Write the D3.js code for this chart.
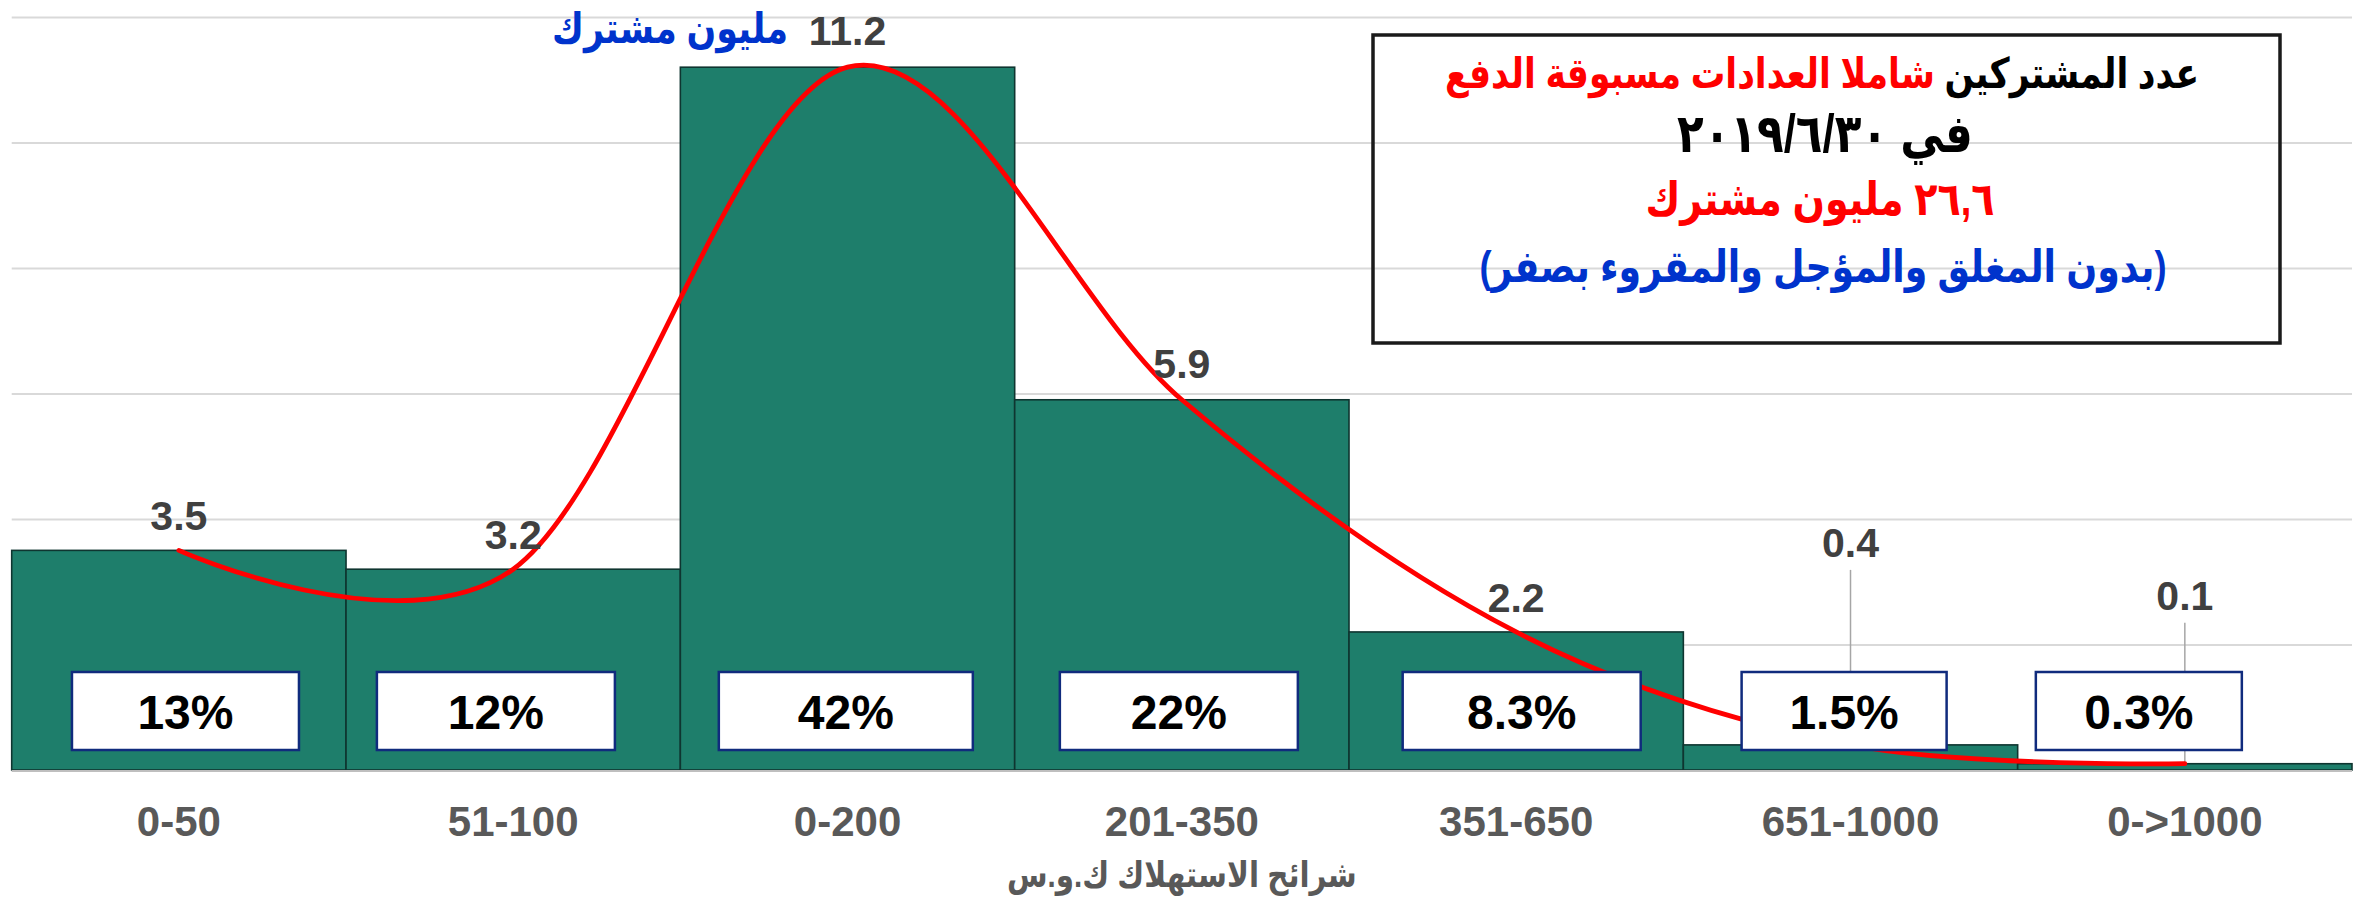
<!DOCTYPE html>
<html>
<head>
<meta charset="utf-8">
<script src="https://cdn.jsdelivr.net/npm/d3@7"></script>
<style>
  html, body { margin: 0; padding: 0; background: #ffffff; }
  svg { display: block; }
  .lat { font-family: "Liberation Sans", Arial, "DejaVu Sans", sans-serif; font-weight: bold; }
  .ar { font-family: "Liberation Sans", "DejaVu Sans", sans-serif; font-weight: bold; }
</style>
</head>
<body>
<script>
// ---- data ----
const categories = ["0-50", "51-100", "0-200", "201-350", "351-650", "651-1000", "0->1000"];
const subscribers = [3.5, 3.2, 11.2, 5.9, 2.2, 0.4, 0.1];          // million subscribers
const shares = ["13%", "12%", "42%", "22%", "8.3%", "1.5%", "0.3%"];
const yTicks = [0, 2, 4, 6, 8, 10, 12];
const xTitle = "شرائح الاستهلاك ك.و.س";
const peakUnit = "مليون مشترك";
const noteLines = [
  [["عدد المشتركين ", "#000000"], ["شاملا العدادات مسبوقة الدفع", "#ff0000"]],
  [["في ٢٠١٩/٦/٣٠", "#000000"]],
  [["٢٦,٦ مليون مشترك", "#ff0000"]],
  [["(بدون المغلق والمؤجل والمقروء بصفر)", "#0033cc"]]
];

// ---- layout (positions/sizes, not data) ----
const W = 2369, H = 901;
const plot = { left: 11.7, right: 2352, top: 17, bottom: 770 };
const labelLift = [20, 20, 22, 22, 20, 188, 154];
const leaderFrom = [null, null, null, null, null, 13, 13];
const boxDx = [6.6, -17.3, -1.7, -3, 5.5, -6.4, -46];
const boxW = [227, 238, 254, 238, 238, 205, 206];
const boxY = 672, boxH = 78;
const noteBox = { x: 1373, y: 35, w: 907, h: 308 };
const noteLayout = [
  { cx: 1822, w: 754, base: 88 },
  { cx: 1825, w: 296, base: 152 },
  { cx: 1820, w: 349, base: 215 },
  { cx: 1823, w: 687, base: 282 }
];
const arStretch = 1.22;   // vertical stretch of the Arabic face to match the reference's taller glyphs

const svg = d3.select("body").append("svg").attr("width", W).attr("height", H);

const x = d3.scaleBand().domain(categories).range([plot.left, plot.right]).paddingInner(0).paddingOuter(0);
const y = d3.scaleLinear().domain([0, 12]).range([plot.bottom, plot.top]);
const cx = i => x(categories[i]) + x.bandwidth() / 2;

// gridlines
const grid = svg.append("g").attr("transform", `translate(${plot.left},0)`)
  .call(d3.axisLeft(y).tickValues(yTicks.filter(t => t > 0)).tickSize(-(plot.right - plot.left)).tickFormat(""));
grid.select(".domain").remove();
grid.selectAll(".tick line").attr("stroke", "#d9d9d9").attr("stroke-width", 2);

// bars
svg.append("g").selectAll("rect").data(subscribers).join("rect")
  .attr("x", (d, i) => x(categories[i]))
  .attr("y", d => y(d))
  .attr("width", x.bandwidth())
  .attr("height", d => y(0) - y(d))
  .attr("fill", "#1e7e6b")
  .attr("stroke", "#0f3530")
  .attr("stroke-width", 1.6);

// baseline
svg.append("line").attr("x1", plot.left).attr("x2", plot.right)
  .attr("y1", y(0) + 1).attr("y2", y(0) + 1)
  .attr("stroke", "#bfbfbf").attr("stroke-width", 2);

// x axis labels
const xa = svg.append("g").attr("transform", `translate(0,${y(0)})`)
  .call(d3.axisBottom(x).tickSize(0).tickPadding(36));
xa.select(".domain").remove();
xa.selectAll("text").attr("class", "lat").attr("font-size", 42).attr("fill", "#595959");

// leader lines
svg.append("g").selectAll("line").data(subscribers.map((d, i) => ({ d, i })).filter(o => leaderFrom[o.i] !== null)).join("line")
  .attr("x1", o => cx(o.i)).attr("x2", o => cx(o.i))
  .attr("y1", o => y(o.d) - labelLift[o.i] + leaderFrom[o.i])
  .attr("y2", o => y(o.d))
  .attr("stroke", "#a6a6a6").attr("stroke-width", 1.5);

// smooth curve
const line = d3.line().x((d, i) => cx(i)).y(d => y(d)).curve(d3.curveCardinal.tension(0));
svg.append("path").datum(subscribers).attr("d", line)
  .attr("fill", "none").attr("stroke", "#ff0000").attr("stroke-width", 4.8).attr("stroke-linecap", "round");

// value labels
svg.append("g").selectAll("text").data(subscribers).join("text")
  .attr("class", "lat")
  .attr("x", (d, i) => cx(i))
  .attr("y", (d, i) => y(d) - labelLift[i])
  .attr("text-anchor", "middle")
  .attr("font-size", 41)
  .attr("fill", "#404040")
  .text(d => d3.format(".1f")(d));

// percent boxes
const pg = svg.append("g").selectAll("g").data(shares).join("g");
pg.append("rect")
  .attr("x", (d, i) => cx(i) + boxDx[i] - boxW[i] / 2)
  .attr("y", boxY).attr("width", (d, i) => boxW[i]).attr("height", boxH)
  .attr("fill", "#ffffff").attr("stroke", "#102b7d").attr("stroke-width", 2.5);
pg.append("text")
  .attr("class", "lat")
  .attr("x", (d, i) => cx(i) + boxDx[i])
  .attr("y", boxY + boxH / 2 + 17.5)
  .attr("text-anchor", "middle")
  .attr("font-size", 48)
  .attr("fill", "#000000")
  .text(d => d);

// Arabic single-line label: width fitted, stretched vertically about its baseline
function arLabel(str, color, cxPos, base, targetW) {
  const t = svg.append("text").attr("class", "ar")
    .attr("direction", "rtl").attr("text-anchor", "middle")
    .attr("x", 0).attr("y", 0)
    .attr("font-size", 40).attr("fill", color)
    .text(str);
  const w = t.node().getComputedTextLength();
  if (w > 0) t.attr("font-size", 40 * targetW / w);
  t.attr("transform", `translate(${cxPos},${base}) scale(1,${arStretch})`);
  return t;
}

arLabel(peakUnit, "#0033cc", 670, 43, 236);
arLabel(xTitle, "#595959", cx(3), 887, 350);

// note box
svg.append("rect").attr("x", noteBox.x).attr("y", noteBox.y).attr("width", noteBox.w).attr("height", noteBox.h)
  .attr("fill", "none").attr("stroke", "#1a1a1a").attr("stroke-width", 3.5);

const note = svg.append("text").attr("class", "ar")
  .attr("direction", "rtl").attr("text-anchor", "middle")
  .attr("transform", `scale(1,${arStretch})`);
noteLines.forEach((parts, k) => {
  const L = noteLayout[k];
  const ln = note.append("tspan").attr("x", L.cx).attr("y", L.base / arStretch).attr("font-size", 44);
  parts.forEach(p => ln.append("tspan").attr("fill", p[1]).text(p[0]));
  const w = ln.node().getComputedTextLength();
  if (w > 0) ln.attr("font-size", 44 * L.w / w);
});
</script>
</body>
</html>
